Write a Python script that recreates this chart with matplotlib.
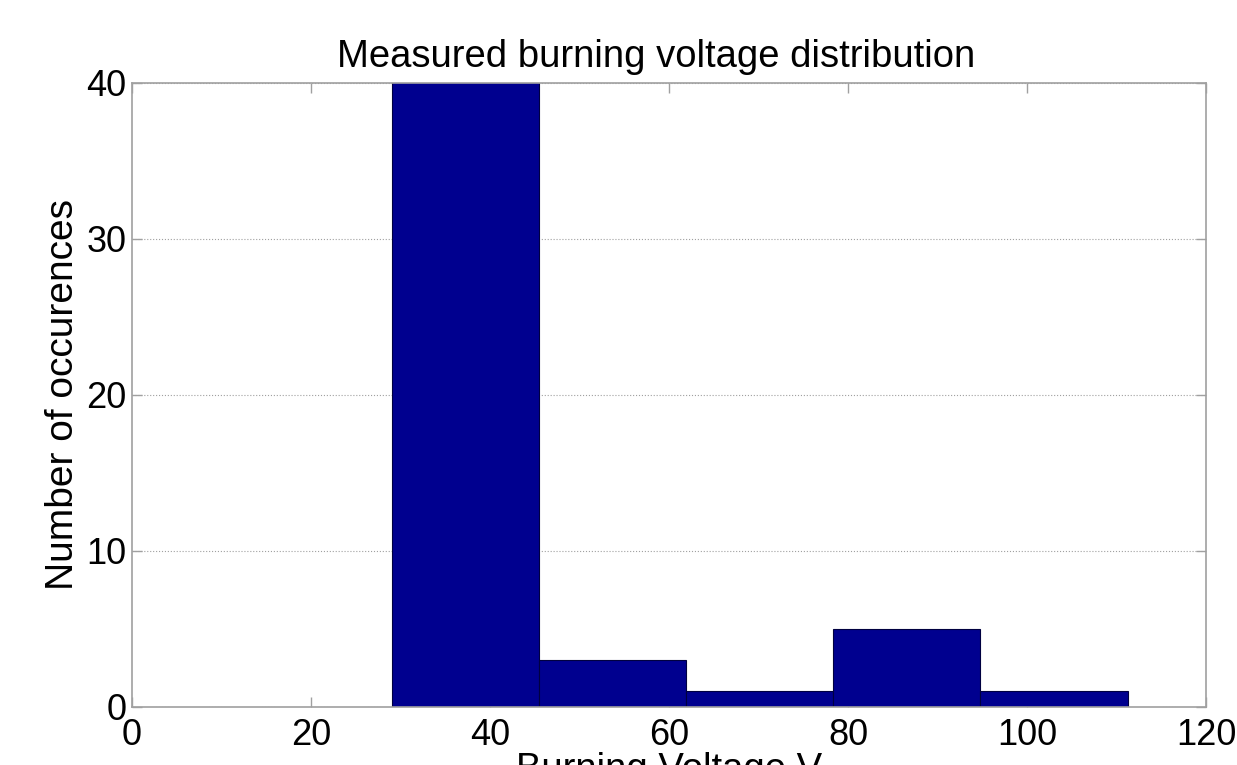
import matplotlib.pyplot as plt

# Histogram data
bin_edges = [29.1, 45.5, 61.9, 78.3, 94.8, 111.3]
counts = [45, 3, 1, 5, 1]

title = "Measured burning voltage distribution"
x_label = "Burning Voltage V"
y_label = "Number of occurences"
x_ticks = [0, 20, 40, 60, 80, 100, 120]
y_ticks = [0, 10, 20, 30, 40]

plt.rcParams['font.family'] = ['Liberation Sans', 'DejaVu Sans']

fig = plt.figure(figsize=(12.37, 7.65), dpi=100)
ax = fig.add_axes([0.1065, 0.0762, 0.8685, 0.8157])

lefts = bin_edges[:-1]
widths = [b - a for a, b in zip(bin_edges[:-1], bin_edges[1:])]
ax.bar(lefts, counts, width=widths, align='edge',
       color='#00008F', edgecolor='#000040', linewidth=0.8, zorder=2)

ax.set_xlim(0, 120)
ax.set_ylim(0, 40)
ax.set_xticks(x_ticks)
ax.set_yticks(y_ticks)

ax.yaxis.grid(True, linestyle=':', color='#a0a0a0', linewidth=0.8, zorder=0)
ax.set_axisbelow(True)

for s in ax.spines.values():
    s.set_color('#a0a0a0')
    s.set_linewidth(1.2)
    s.set_zorder(3)

ax.tick_params(direction='in', length=7, width=1, color='#a0a0a0',
               labelsize=26, top=True, right=True, labelcolor='black')
ax.tick_params(axis='x', pad=8)
ax.tick_params(axis='y', pad=3.6)

ax.set_title(title, fontsize=27.5, pad=11)
ax.title.set_x(0.4885)
ax.set_ylabel(y_label, fontsize=28, labelpad=3.6)
ax.set_xlabel(x_label, fontsize=27.5)
ax.xaxis.set_label_coords(0.5, -0.072)
ax.xaxis.label.set_va('top')

fig.savefig('out.png', dpi=100)
